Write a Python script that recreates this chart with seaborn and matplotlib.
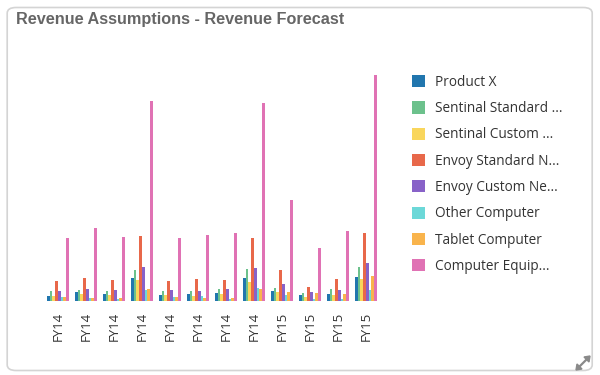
import matplotlib
matplotlib.use("Agg")
import matplotlib.pyplot as plt
from matplotlib.patches import FancyBboxPatch, Polygon
from matplotlib.lines import Line2D
import pandas as pd
import seaborn as sns

# Fiscal periods shown on the x axis (12 columns, labels repeat)
periods = ["FY14", "FY14", "FY14", "FY14", "FY14", "FY14", "FY14", "FY14",
           "FY15", "FY15", "FY15", "FY15"]

series_names = ["Product X", "Sentinal Standard ...", "Sentinal Custom ...",
                "Envoy Standard N...", "Envoy Custom Ne...", "Other Computer",
                "Tablet Computer", "Computer Equip..."]

series_colors = ["#2176ae", "#6cc18c", "#f9d65c", "#e8684a",
                 "#8862c8", "#6cd8d8", "#f9b44c", "#e072b4"]

# Values (no axis shown, relative units)
product_x = [5.5, 9, 7.3, 23.3, 6, 7.3, 8, 22.7, 10, 5.7, 7, 23.7]
sentinal_standard = [9.7, 10.7, 9.7, 31.3, 9.7, 10.3, 11.7, 32, 13, 7.7, 11.7, 34.3]
sentinal_custom = [5, 7.3, 5.7, 21, 5.7, 5.3, 7.3, 18.7, 9, 3.7, 6.3, 22]
envoy_standard = [20, 22.7, 20.7, 64.7, 19.7, 21.7, 20.7, 62.7, 31.3, 13.7, 21.7, 68.3]
envoy_custom = [9.7, 12.3, 10.7, 33.7, 10.7, 9.7, 12, 33, 17.3, 8.7, 10.7, 38]
other_computer = [3.7, 3.3, 2.3, 11, 4.3, 5.3, 2.3, 13, 5.7, 1.7, 2, 10.7]
tablet_computer = [3.7, 3.3, 3, 11.7, 3.7, 3, 3, 11.7, 8.7, 7.7, 7, 24.7]
computer_equip = [62.7, 72.7, 63.7, 200.3, 63, 66, 67.7, 197.7, 100.7, 53.3, 70.3, 226]

all_series = [product_x, sentinal_standard, sentinal_custom, envoy_standard,
              envoy_custom, other_computer, tablet_computer, computer_equip]

rows = []
for name, vals in zip(series_names, all_series):
    for i, v in enumerate(vals):
        rows.append({"col": str(i), "Series": name, "Revenue": v})
df = pd.DataFrame(rows)

sns.set_style("white")
plt.rcParams["font.family"] = ["Open Sans", "DejaVu Sans"]

fig = plt.figure(figsize=(6, 3.75), dpi=100)

# card background with soft border
card = FancyBboxPatch((0.012, 0.012), 0.975, 0.968, boxstyle="round,pad=0,rounding_size=0.015",
                      transform=fig.transFigure, facecolor="white", edgecolor="#d4d4d4",
                      linewidth=1.2, zorder=-10)
fig.patches.append(card)

ax = fig.add_axes([0.073, 0.197, 0.56, 0.64])
sns.barplot(data=df, x="col", y="Revenue", hue="Series", hue_order=series_names,
            palette=series_colors, saturation=1, width=0.78, gap=0,
            linewidth=0, edgecolor="none", ax=ax)

ax.set_ylim(0, 240)
ax.set_xlabel("")
ax.set_ylabel("")
ax.set_yticks([])
ax.set_xticks(range(len(periods)))
ax.set_xticklabels(periods, rotation=90, fontsize=9.5, color="#333333")
ax.tick_params(axis="x", length=0, pad=8)
sns.despine(ax=ax, left=True, bottom=True)
ax.set_facecolor("none")

sns.move_legend(ax, "upper left", bbox_to_anchor=(0.677, 0.815),
                bbox_transform=fig.transFigure, frameon=False, title=None,
                fontsize=9.8, handlelength=1.0, handleheight=1.0,
                handletextpad=0.7, labelspacing=0.83, borderaxespad=0)
for t in ax.get_legend().get_texts():
    t.set_color("#333333")

fig.text(0.026, 0.948, "Revenue Assumptions - Revenue Forecast", fontsize=11.7,
         fontweight="bold", color="#666666", family="Liberation Sans", va="center")

# resize glyph in the corner, drawn as two small diagonal arrows
cx, cy = 583 / 600, 1 - 363 / 375
dx, dy = 1 / 600, 1 / 375
fig.add_artist(Line2D([cx - 5 * dx, cx + 5 * dx], [cy - 5 * dy, cy + 5 * dy],
                      color="#8a8a8a", linewidth=1.6, transform=fig.transFigure))
fig.add_artist(Polygon([[cx + 7 * dx, cy + 7 * dy], [cx + 1 * dx, cy + 6 * dy],
                        [cx + 6 * dx, cy + 1 * dy]], closed=True, color="#8a8a8a",
                       transform=fig.transFigure))
fig.add_artist(Polygon([[cx - 7 * dx, cy - 7 * dy], [cx - 1 * dx, cy - 6 * dy],
                        [cx - 6 * dx, cy - 1 * dy]], closed=True, color="#8a8a8a",
                       transform=fig.transFigure))

fig.savefig("out.png", dpi=100)
